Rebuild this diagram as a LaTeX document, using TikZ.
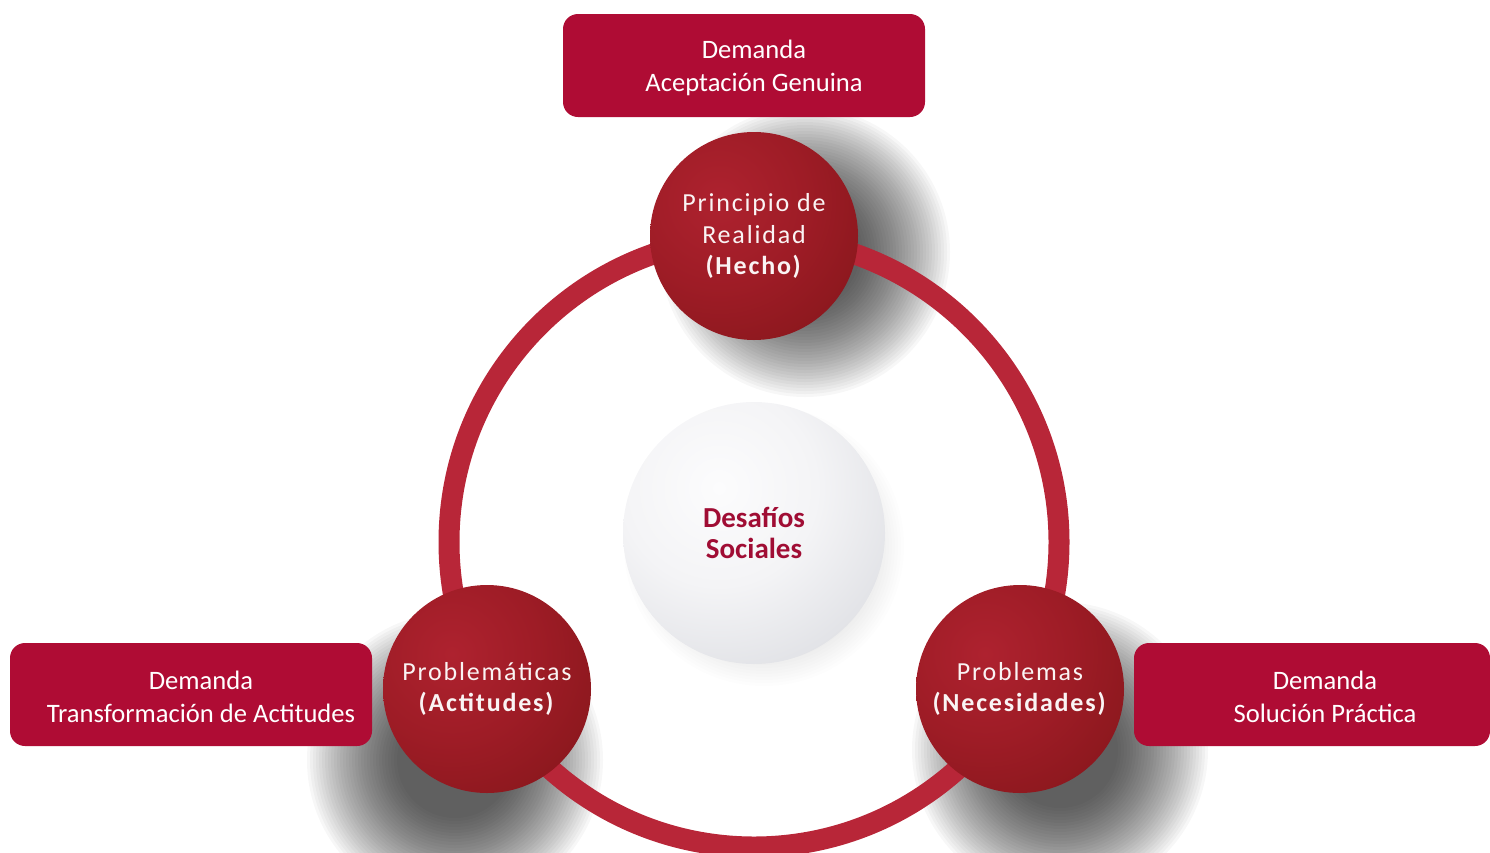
\documentclass[tikz,border=0pt]{standalone}
\usepackage{fontspec}
\setmainfont{Carlito}
\newfontfamily\spacedfont{Carlito}[LetterSpace=7]
\definecolor{boxred}{RGB}{175,12,52}
\definecolor{ringred}{RGB}{184,38,56}
\definecolor{deskred}{RGB}{160,13,52}
\definecolor{txtw}{RGB}{250,244,244}
\definecolor{rb1}{RGB}{174,34,47}
\definecolor{rb2}{RGB}{158,28,38}
\definecolor{rb3}{RGB}{132,22,26}
\definecolor{rb4}{RGB}{116,19,20}
\definecolor{rb5}{RGB}{190,40,52}
\definecolor{sp0}{RGB}{252,252,253}
\definecolor{sp1}{RGB}{244,244,246}
\definecolor{sp2}{RGB}{226,227,231}
\definecolor{sp3}{RGB}{190,193,201}
\definecolor{sp4}{RGB}{160,163,174}
\pgfdeclareradialshading{redballc}{\pgfpointorigin}{color(0bp)=(rb1); color(14bp)=(rb2); color(31bp)=(rb3); color(43bp)=(rb4); color(48bp)=(rb4); color(49.5bp)=(rb5); color(50bp)=(rb5)}
\pgfdeclareradialshading{whiteballc}{\pgfpointorigin}{color(0bp)=(sp0); color(13bp)=(sp1); color(25bp)=(sp2); color(37bp)=(sp3); color(47bp)=(sp4); color(50bp)=(sp4)}
\tikzset{
  ballst/.style={circle, minimum size=208pt, inner sep=0pt, align=center, text=txtw,
    font=\spacedfont\fontsize{26}{31.5}\selectfont,
    path picture={\shade[shading=redballc] ([shift={(-35pt,35pt)}]path picture bounding box.center) circle[radius=154pt];}},
  sphst/.style={circle, minimum size=262pt, inner sep=0pt, align=center, text=deskred,
    font=\fontsize{29}{31}\selectfont\bfseries,
    path picture={\shade[shading=whiteballc] ([shift={(-35pt,45pt)}]path picture bounding box.center) circle[radius=188pt];}},
  boxst/.style={rectangle, rounded corners=15pt, fill=boxred, minimum height=103pt, inner sep=0pt},
  boxtxt/.style={align=center, text=white, inner sep=0pt, font=\fontsize{26.6}{32.5}\selectfont},
  ringst/.style={draw=ringred, line width=21pt}
}
\newcommand\softshadow[4]{% center x, center y, max radius, layer opacity
  \foreach \rr in {0,3,...,90}{\fill[black, opacity=#4] (#1,#2) circle[radius=#3pt-\rr pt];}}
\begin{document}
\begin{tikzpicture}[x=1pt, y=-1pt]
\useasboundingbox (0,0) rectangle (1490,852);
% shadows
\softshadow{805}{252}{145}{0.03}
\softshadow{455}{760}{148}{0.03}
\softshadow{1060}{750}{148}{0.03}
\softshadow{764}{546}{140}{0.006}
% ring
\draw[ringst] (754,542) circle[radius=305pt];
% center sphere
\node[sphst] (desafios) at (754,533) {Desafíos\\Sociales};
% red balls
\node[ballst] (hecho) at (754,236) {Principio de\\Realidad\\\textbf{(Hecho)}};
\node[ballst] (actitudes) at (487,689) {Problemáticas\\\textbf{(Actitudes)}};
\node[ballst] (necesidades) at (1020,689) {Problemas\\\textbf{(Necesidades)}};
% boxes
\node[boxst, minimum width=362pt] (boxtop) at (744,65.5) {};
\node[boxst, minimum width=362pt] (boxleft) at (191,694.5) {};
\node[boxst, minimum width=356pt] (boxright) at (1312,694.5) {};
\node[boxtxt] (ttop) at (754,68) {Demanda\\Aceptación Genuina};
\node[boxtxt] (tleft) at (201,697) {Demanda\\Transformación de Actitudes};
\node[boxtxt] (tright) at (1325,697) {Demanda\\Solución Práctica};
\end{tikzpicture}
\end{document}
